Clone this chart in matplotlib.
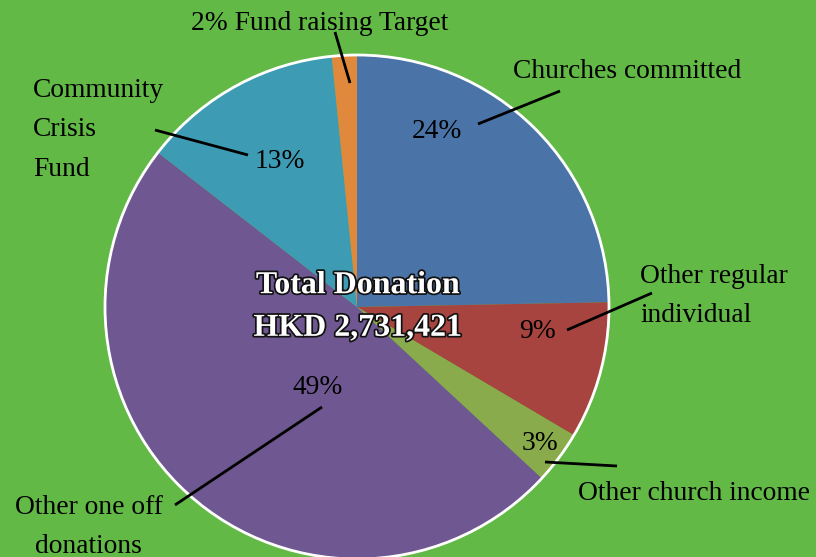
import matplotlib.pyplot as plt
import matplotlib.patheffects as pe
from matplotlib.patches import Circle

categories = ['Churches committed', 'Other regular individual', 'Other church income',
              'Other one off donations', 'Community Crisis Fund', 'Fund raising Target']
shares = [24.7, 8.8, 3.4, 48.6, 12.9, 1.6]
pct_labels = ['24%', '9%', '3%', '49%', '13%', '2%']
colors = ['#4a74a8', '#a8443f', '#8aab4b', '#6f5891', '#3e9bb4', '#e0893c']
bg = '#62b946'

W, H = 816, 557
def Y(y):
    return H - y

plt.rcParams['font.family'] = ['Liberation Serif', 'DejaVu Serif']

fig = plt.figure(figsize=(W / 100, H / 100), dpi=100, facecolor=bg)
ax = fig.add_axes([0, 0, 1, 1])
ax.set_facecolor(bg)

cx, cy, r = 357, 307, 252
ax.pie(shares, colors=colors, startangle=90, counterclock=False,
       center=(cx, Y(cy)), radius=r, wedgeprops=dict(linewidth=0))
ax.add_patch(Circle((cx, Y(cy)), r, fill=False, ec='white', lw=2))

ax.set_xlim(0, W)
ax.set_ylim(0, H)
ax.set_aspect('equal')
ax.axis('off')

fs = 19.8
lw = 2
# percent labels inside wedges
pct_pos = [(437, 131), (537, 331), (540, 443), (318, 387), (280, 161)]
for (x, y), t in zip(pct_pos, pct_labels[:5]):
    ax.text(x, Y(y), t, fontsize=fs, ha='center', va='center')

# leader lines
leaders = [((478, 124), (560, 91)), ((567, 330), (652, 293)), ((545, 462), (617, 466)),
           ((175, 505), (322, 407)), ((155, 130), (248, 155)), ((335, 32), (350, 83))]
for (x0, y0), (x1, y1) in leaders:
    ax.plot([x0, x1], [Y(y0), Y(y1)], color='black', lw=lw, solid_capstyle='butt')

# outer labels
ls = 1.76
ax.text(513, Y(71), 'Churches committed', fontsize=fs, ha='left', va='center')
ax.text(640, Y(296), 'Other regular\nindividual', fontsize=fs, ha='left', va='center',
        linespacing=ls)
ax.text(578, Y(494), 'Other church income', fontsize=fs, ha='left', va='center')
ax.text(15, Y(527), 'Other one off\ndonations', fontsize=fs, ha='left', va='center',
        linespacing=ls, multialignment='center')
ax.text(33, Y(130), 'Community\nCrisis\nFund', fontsize=fs, ha='left', va='center',
        linespacing=ls)
ax.text(320, Y(23), '2% ' + categories[5], fontsize=fs, ha='center', va='center')

# centre title
ax.text(358, Y(307), 'Total Donation\nHKD 2,731,421', fontsize=23, fontweight='bold',
        color='white', ha='center', va='center', linespacing=1.62,
        path_effects=[pe.withStroke(linewidth=2.5, foreground='#111111')])

fig.savefig('out.png', dpi=100, facecolor=bg)
